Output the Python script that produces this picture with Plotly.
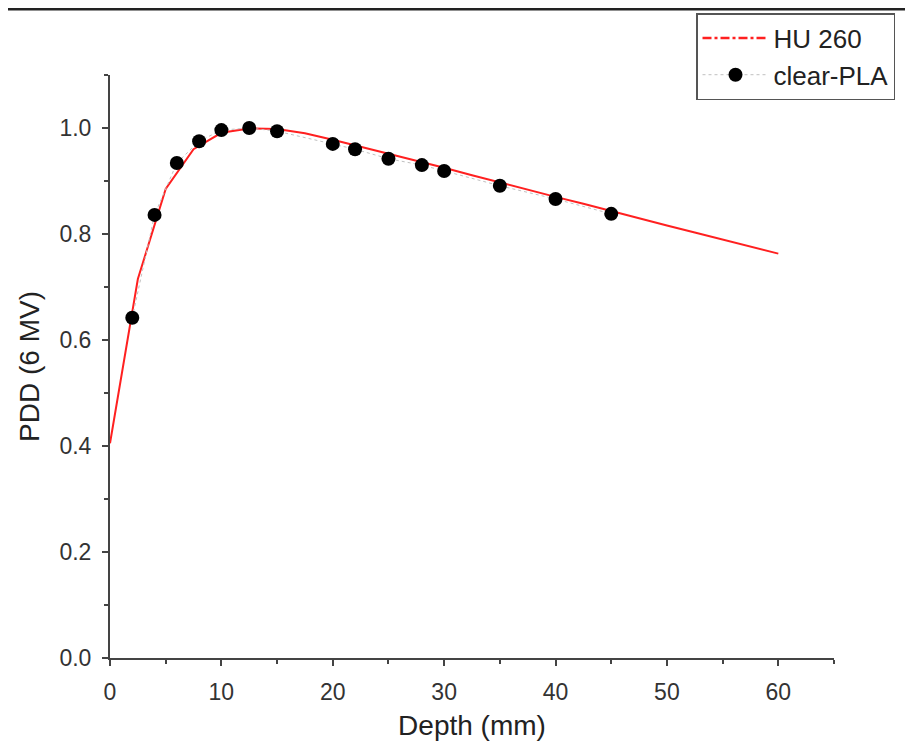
import plotly.graph_objects as go

# HU 260 curve
hu_depth = [0, 2.5, 5, 7.5, 10, 12.5, 15, 17.5, 20, 22.5, 25, 27.5, 30, 32.5, 35,
            37.5, 40, 42.5, 45, 47.5, 50, 52.5, 55, 57.5, 60]
hu_pdd = [0.405, 0.715, 0.885, 0.960, 0.991, 0.999, 0.998, 0.990, 0.978, 0.965,
          0.952, 0.939, 0.925, 0.911, 0.897, 0.884, 0.870, 0.857, 0.843, 0.830,
          0.816, 0.803, 0.790, 0.776, 0.763]

# clear-PLA measurements
pla_depth = [2, 4, 6, 8, 10, 12.5, 15, 20, 22, 25, 28, 30, 35, 40, 45]
pla_pdd = [0.642, 0.836, 0.934, 0.975, 0.996, 1.000, 0.994, 0.970, 0.960,
           0.942, 0.930, 0.919, 0.891, 0.866, 0.838]

x_ticks = [0, 10, 20, 30, 40, 50, 60]
y_ticks = [0.0, 0.2, 0.4, 0.6, 0.8, 1.0]

OFF = 8  # page body margin
W, H = 913 - OFF, 747 - OFF
ML, MR, MT, MB = 110 - OFF, 79, 75 - OFF, 89
pw, ph = W - ML - MR, H - MT - MB

FONT = "Liberation Sans, Arial"
RED = "#ff2020"

fig = go.Figure()
fig.add_trace(go.Scatter(
    x=hu_depth, y=hu_pdd, mode="lines", name="HU 260", showlegend=False,
    line=dict(color=RED, width=2),
))
fig.add_trace(go.Scatter(
    x=[None], y=[None], mode="lines", name="HU 260",
    line=dict(color=RED, width=2.5, dash="dashdot"),
))
fig.add_trace(go.Scatter(
    x=pla_depth, y=pla_pdd, mode="lines+markers", name="clear-PLA",
    line=dict(color="#c0c0c0", width=1, dash="dot"),
    marker=dict(color="black", size=14),
))

axis_common = dict(
    showgrid=False, zeroline=False, showline=True, linecolor="#444444", linewidth=2,
    ticks="outside", ticklen=6, tickwidth=1.5, tickcolor="#444444", automargin=False,
    tickfont=dict(family=FONT, size=23, color="#333333"),
    title_font=dict(family=FONT, size=28, color="#222222"),
)

fig.update_xaxes(
    range=[0, 65], tickvals=x_ticks, ticktext=[str(v) for v in x_ticks],
    title_text="Depth (mm)", title_standoff=12, ticklabelstandoff=6,
    minor=dict(dtick=5, ticks="outside", ticklen=4, tickcolor="#444444", tickwidth=1.5),
    **axis_common,
)
fig.update_yaxes(
    range=[0, 1.1], tickvals=y_ticks, ticktext=[f"{v:.1f}" for v in y_ticks],
    title_text="PDD (6 MV)", title_standoff=12, ticklabelstandoff=6,
    minor=dict(dtick=0.1, ticks="outside", ticklen=4, tickcolor="#444444", tickwidth=1.5),
    **axis_common,
)

fig.add_shape(type="line", xref="paper", yref="paper",
              x0=-ML / pw, x1=(W - ML) / pw, y0=(ph + MT - 1) / ph, y1=(ph + MT - 1) / ph,
              line=dict(color="#222222", width=3))

fig.update_layout(
    width=W, height=H,
    margin=dict(l=ML, r=MR, t=MT, b=MB, autoexpand=False),
    paper_bgcolor="white", plot_bgcolor="white",
    legend=dict(
        x=(696 - 110) / pw, y=(658 - 13) / ph, xanchor="left", yanchor="top",
        bordercolor="#555555", borderwidth=1.5, bgcolor="white",
        font=dict(family=FONT, size=26, color="#222222"),
        tracegroupgap=0, itemwidth=66,
    ),
)

fig.write_html("out.html")
